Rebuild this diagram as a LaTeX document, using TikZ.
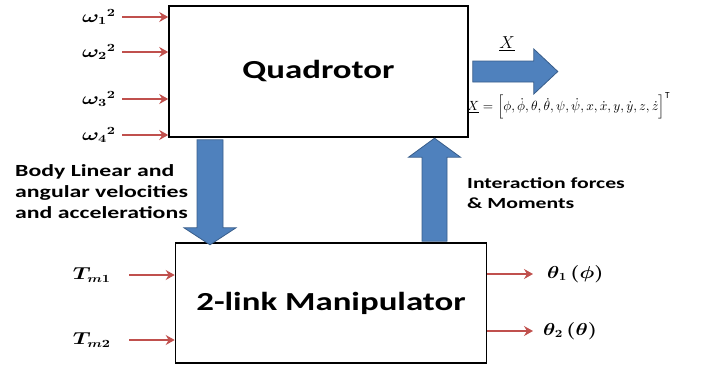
\documentclass[tikz,border=0pt]{standalone}
\usepackage{amsmath,bm,graphicx}
\usepackage{fontspec}
\setmainfont{Carlito}
\newfontfamily\blockfont[FakeStretch=1.34]{Carlito}
\newfontfamily\capfont[FakeStretch=1.4]{Carlito}
\newcommand\hwide[1]{\scalebox{1.3}[1]{#1}}
\usetikzlibrary{arrows.meta,calc}
\definecolor{inred}{RGB}{192,80,77}
\definecolor{flowblue}{RGB}{79,129,189}
\definecolor{flowedge}{RGB}{56,93,138}

\begin{document}
\begin{tikzpicture}[x=1pt,y=-1pt,
  block/.style={draw,line width=1.6pt,inner sep=0pt,font=\blockfont\bfseries\fontsize{26}{30}\selectfont},
  sig/.style={draw=inred,line width=1.8pt,-{Stealth[length=9pt,width=10pt,inset=3pt]}},
  siglabel/.style={inner sep=0pt,font=\fontsize{16}{18}\selectfont},
  flow/.style={fill=flowblue,draw=flowedge,line width=0.8pt},
  caption/.style={font=\capfont\bfseries\fontsize{16.5}{21}\selectfont,align=left,anchor=north west,inner sep=0pt}]
 \useasboundingbox (0,0) rectangle (703,369);
 % blocks
 \node[block,minimum width=299pt,minimum height=131pt] (quad) at (318.5,71.5) {\raisebox{-2pt}{Quadrotor}};
 \node[block,minimum width=311pt,minimum height=120pt] (manip) at (331,303) {\raisebox{-2pt}{2-link Manipulator}};

 % rotor speed inputs
 \foreach \k/\y in {1/17,2/52,3/99,4/135} {
  \coordinate (w\k) at (122,\y);
  \draw[sig] (w\k) -- (w\k -| quad.west);
  \node[siglabel,anchor=east] (wlab\k) at ([xshift=-6pt]w\k) {\hwide{${\bm\omega_{\bm\k}}^{\bm 2}$}};
 }

 % joint torques in, joint angles out
 \foreach \k/\y in {1/275,2/340} {
  \coordinate (tm\k) at (129,\y);
  \draw[sig] (tm\k) -- (tm\k -| manip.west);
  \node[siglabel,anchor=east] (tmlab\k) at ([xshift=-18pt]tm\k) {\hwide{$\bm{T_{m\k}}$}};
 }
 \coordinate (th1) at (533,274);
 \coordinate (th2) at (533,331);
 \draw[sig] (th1 -| manip.east) -- (th1);
 \draw[sig] (th2 -| manip.east) -- (th2);
 \node[siglabel,anchor=west] (thlab1) at ([xshift=14pt]th1) {\scalebox{1.2}[1]{$\bm{\theta_1\,(\phi)}$}};
 \node[siglabel,anchor=west] (thlab2) at ([xshift=10pt]th2) {\scalebox{1.2}[1]{$\bm{\theta_2\,(\theta)}$}};

 % coupling between the blocks
 \coordinate (dnx) at (210,0);
 \coordinate (upx) at (434.5,0);
 \begin{scope}[shift={(quad.south -| dnx)}]
  \draw[flow] (-13,2) -- (13,2) -- (13,90) -- (26,90) -- (0,107) -- (-26,90) -- (-13,90) -- cycle;
 \end{scope}
 \begin{scope}[shift={(manip.north -| upx)}]
  \draw[flow] (-12.5,-1) -- (12.5,-1) -- (12.5,-85) -- (26,-85) -- (0,-104) -- (-26,-85) -- (-12.5,-85) -- cycle;
 \end{scope}
 \node[caption,font=\capfont\bfseries\fontsize{17}{21}\selectfont] (bodytxt) at (15,164) {Body Linear and\\angular velocities\\and accelerations};
 \node[caption,font=\capfont\bfseries\fontsize{15.5}{20}\selectfont] (forcetxt) at (467,177) {Interaction forces\\\& Moments};

 % state output
 \coordinate (outx) at (0,71.5);
 \begin{scope}[shift={(quad.east |- outx)}]
  \draw[flow] (4,-10.5) -- (65,-10.5) -- (65,-22.5) -- (89,0) -- (65,22.5) -- (65,10.5) -- (4,10.5) -- cycle;
 \end{scope}
 \node[font=\fontsize{16}{18}\selectfont,inner sep=0pt] (xlab) at (507,44) {$\underline{X}$};
 \node[anchor=west,inner sep=0pt] (xdef) at (467,106)
  {\resizebox{203pt}{!}{$\underline{X}=\Big[\phi,\dot\phi,\theta,\dot\theta,\psi,\dot\psi,x,\dot x,y,\dot y,z,\dot z\Big]^{\mathrm{T}}$}};
\end{tikzpicture}
\end{document}
